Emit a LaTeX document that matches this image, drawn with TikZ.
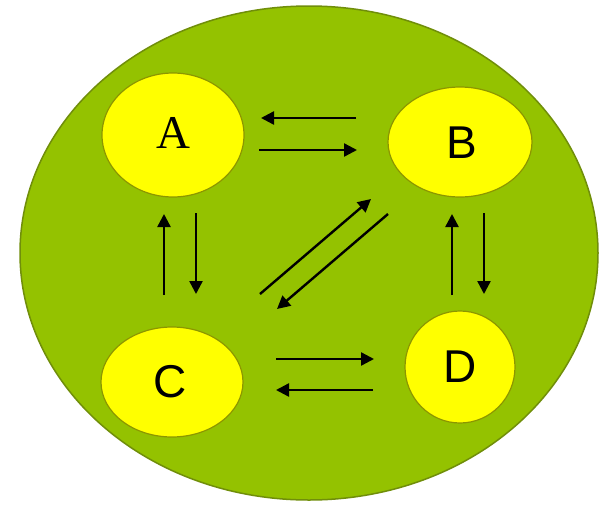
\documentclass[tikz,border=0pt]{standalone}
\usepackage{fontspec}
\setmainfont{Liberation Serif}
\setsansfont{Liberation Sans}
\usetikzlibrary{shapes.geometric,arrows.meta}
\definecolor{cellgreen}{RGB}{148,194,0}
\definecolor{celledge}{RGB}{112,142,10}
\definecolor{nucyellow}{RGB}{255,255,0}
\definecolor{nucedge}{RGB}{140,150,0}
\tikzset{
  cell/.style={ellipse,draw=celledge,fill=cellgreen,line width=1.5pt,inner sep=0pt},
  blob/.style={ellipse,draw=nucedge,fill=nucyellow,line width=1.2pt,inner sep=0pt,text=black},
  sanslbl/.style={font=\sffamily\fontsize{46}{50}\selectfont},
  seriflbl/.style={font=\rmfamily\fontsize{47}{50}\selectfont},
  arr/.style={line width=2.4pt,-{Triangle[length=13pt,width=13pt]}}
}
\begin{document}
\begin{tikzpicture}[x=1pt,y=-1pt]
\useasboundingbox (0,0) rectangle (603,504);
\node[cell,minimum width=578pt,minimum height=494pt] (cellbody) at (309,253) {};
\node[blob,minimum width=142pt,minimum height=124pt] (A) at (173,135) {};
\node[seriflbl] (Alab) at (173,133) {A};
\node[blob,minimum width=144pt,minimum height=110pt] (B) at (460,142) {};
\node[sanslbl] (Blab) at (462,143) {B};
\node[blob,minimum width=142pt,minimum height=110pt] (C) at (172,382) {};
\node[sanslbl] (Clab) at (170,382) {C};
\node[blob,minimum width=110pt,minimum height=112pt] (D) at (460,367) {};
\node[sanslbl] (Dlab) at (460,367) {D};
% arrow endpoints
\coordinate (ab1s) at (356,118); \coordinate (ab1e) at (261,118);
\coordinate (ab2s) at (259,150); \coordinate (ab2e) at (357,150);
\coordinate (ac1s) at (164,295); \coordinate (ac1e) at (164,214);
\coordinate (ac2s) at (196,213); \coordinate (ac2e) at (196,294);
\coordinate (bd1s) at (452,295); \coordinate (bd1e) at (452,214);
\coordinate (bd2s) at (484,213); \coordinate (bd2e) at (484,294);
\coordinate (cb1s) at (260,294); \coordinate (cb1e) at (371,199);
\coordinate (cb2s) at (388,214); \coordinate (cb2e) at (277,309);
\coordinate (cd1s) at (276,359); \coordinate (cd1e) at (374,359);
\coordinate (cd2s) at (373,390); \coordinate (cd2e) at (276,390);
\draw[arr] (ab1s) -- (ab1e);
\draw[arr] (ab2s) -- (ab2e);
\draw[arr] (ac1s) -- (ac1e);
\draw[arr] (ac2s) -- (ac2e);
\draw[arr] (bd1s) -- (bd1e);
\draw[arr] (bd2s) -- (bd2e);
\draw[arr] (cb1s) -- (cb1e);
\draw[arr] (cb2s) -- (cb2e);
\draw[arr] (cd1s) -- (cd1e);
\draw[arr] (cd2s) -- (cd2e);
\end{tikzpicture}
\end{document}
